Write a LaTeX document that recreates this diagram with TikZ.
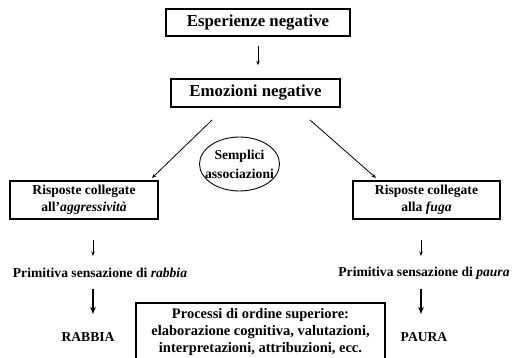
\documentclass[tikz,border=0pt]{standalone}
\usepackage{fontspec}
\setmainfont{Liberation Serif}
\usetikzlibrary{shapes.geometric,arrows.meta}
\tikzset{
  bigbox/.style={draw,line width=1.5pt,inner sep=0pt,font=\fontsize{16.8}{19}\selectfont\bfseries},
  midbox/.style={draw,line width=1.3pt,inner sep=0pt,align=center,font=\fontsize{13.6}{17}\selectfont\bfseries},
  procbox/.style={draw,line width=1.6pt,inner sep=0pt,align=center,font=\fontsize{14.5}{16.6}\selectfont\bfseries},
  plain/.style={inner sep=0pt,font=\fontsize{13.6}{16}\selectfont\bfseries},
  assoc/.style={draw,ellipse,line width=0.9pt,inner sep=0pt},
  assoctext/.style={inner sep=0pt,align=center,font=\fontsize{13.6}{19}\selectfont\bfseries},
  thin/.style={line width=0.8pt,-{Stealth[length=4.5pt,width=3.5pt]}},
  thick/.style={line width=1.1pt,-{Stealth[length=7pt,width=5.5pt]}}
}
\begin{document}
\begin{tikzpicture}[x=1pt,y=-1pt]
\useasboundingbox (0,0) rectangle (512,358);
\node[bigbox,minimum width=184pt,minimum height=27pt] (esp) at (258,22.5) {Esperienze negative};
\node[bigbox,minimum width=169pt,minimum height=28pt] (emo) at (255.5,93) {Emozioni negative};
\node[assoc,minimum width=80pt,minimum height=54pt] (ass) at (239.5,164) {};
\node[assoctext] (asst) at (ass.center) {Semplici\\associazioni};
\node[midbox,minimum width=148pt,minimum height=38pt] (rl) at (84,200) {Risposte collegate\\all'\textit{aggressività}};
\node[midbox,minimum width=147pt,minimum height=38pt] (rr) at (426.5,200) {Risposte collegate\\alla \textit{fuga}};
\node[plain] (pl) at (100,273) {Primitiva sensazione di \textit{rabbia}};
\node[plain] (pr) at (424,273) {Primitiva sensazione di \textit{paura}};
\node[plain] (rab) at (88,337) {RABBIA};
\node[plain] (pau) at (424,337) {PAURA};
\node[procbox,minimum width=249pt,minimum height=58pt] (proc) at (260.5,332) {Processi di ordine superiore:\\elaborazione cognitiva, valutazioni,\\interpretazioni, attribuzioni, ecc.};
\coordinate (l1) at (212,120);
\coordinate (l2) at (152,178);
\coordinate (r1) at (310,120);
\coordinate (r2) at (376,178);
\draw[thin,shorten <=9pt,shorten >=13pt] (esp.south) -- (esp.south |- emo.north);
\draw[thin] (l1) -- (l2);
\draw[thin] (r1) -- (r2);
\draw[thin,shorten <=21pt,shorten >=10pt] (93,219) -- (93,266);
\draw[thin,shorten <=21pt,shorten >=10pt] (421,219) -- (421,266);
\draw[thick,shorten <=9pt,shorten >=16pt] (93,280) -- (93,330);
\draw[thick,shorten <=9pt,shorten >=16pt] (421,280) -- (421,330);
\end{tikzpicture}
\end{document}
